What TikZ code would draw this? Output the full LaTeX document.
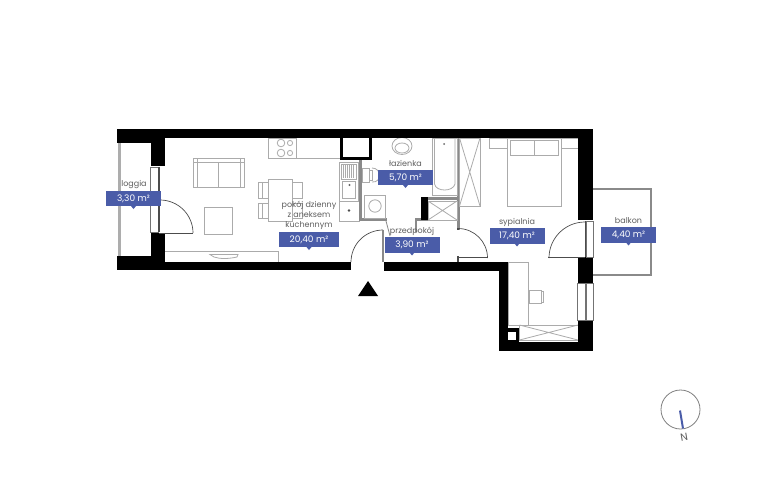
\documentclass[tikz,border=0pt]{standalone}
\usepackage{fontspec}
\setmainfont{Poppins}
\usetikzlibrary{calc}
\definecolor{labelblue}{HTML}{4A5CA8}
\definecolor{wallgray}{HTML}{8A8A8A}
\definecolor{linegray}{HTML}{ABABAB}
\definecolor{txtgray}{HTML}{5E5E5E}
\tikzset{
  x=1pt,y=-1pt,
  wall/.style={fill=black,draw=none},
  furn/.style={draw=linegray,line width=0.8pt,fill=none},
  darkline/.style={draw=black!70,line width=0.7pt},
  winframe/.style={draw=black!55,line width=0.7pt,fill=white},
  roomname/.style={text=txtgray,font=\fontsize{8}{10}\selectfont,align=center,inner sep=0pt},
  areabox/.style={fill=labelblue,text=white,font=\fontsize{9}{10}\selectfont,minimum width=55pt,minimum height=15.5pt,inner sep=0pt},
}
\newcommand{\pointer}[2]{\fill[labelblue] (#1-2.5,#2) -- (#1+2.5,#2) -- (#1,#2+3) -- cycle;}
\begin{document}
\begin{tikzpicture}
\useasboundingbox (0,0) rectangle (768,480);
\fill[white] (0,0) rectangle (768,480);

% balcony and loggia
\draw[draw=wallgray,line width=2pt] (593,188.5) -- (650.5,188.5) -- (650.5,275) -- (593,275);
\fill[wallgray!70] (118,143) rectangle (120.5,256);

% furniture: living room
\draw[furn] (193,158) rectangle (244,187);
\draw[furn] (197,158) -- (197,187) (240,158) -- (240,187) (193,162) -- (244,162) (218,162) -- (218,187);
\draw[furn] (204,207) rectangle (232,234);
\draw[furn] (165,251) -- (278,251);
\draw[furn] (278,251) -- (278,262);
\draw[furn] (210,254.5) -- (238,254.5) -- (237,257) .. controls (228,259) and (220,259) .. (214,257) -- cycle;
\draw[furn] (268,179) rectangle (292,221);
\draw[furn] (258,182) rectangle (268,198) (258,203) rectangle (268,218);
\draw[furn] (292,182) rectangle (302,198) (292,203) rectangle (302,218);
\draw[furn] (262,182) -- (262,198) (262,203) -- (262,218);

% kitchen
\draw[furn] (268,138) rectangle (296,158);
\draw[furn] (296,158) -- (340,158);
\draw[furn] (281,143) circle (3.8) (281,153) circle (3.8) (290,143) circle (2.6) (290,153) circle (2.6);
\draw[furn] (339,162) rectangle (358,201);
\draw[furn] (341,164) rectangle (356,179);
\draw[furn] (342,181) rectangle (355,198);
\foreach \k in {343,345,...,354} {\draw[linegray,line width=0.5pt] (\k,165) -- (\k,178);}
\fill[black!60] (349.5,185) circle (1.1);
\draw[furn] (339,201) rectangle (359,221);
\fill[black!70] (349,210.5) circle (1.3);
\draw[line width=3pt,draw=black] (341.5,138) -- (341.5,158.5) -- (370.5,158.5) -- (370.5,138);

% bathroom
\fill[wallgray] (359,160) rectangle (362,221);
\fill[wallgray] (359,218) rectangle (387,221);
\fill[wallgray] (428,197) rectangle (457,200);
\fill[wallgray] (457,138) rectangle (460,230);
\fill[wallgray] (415,218) rectangle (428,220.5);
\fill[wallgray] (414.5,218) rectangle (416.5,232);
\draw[wallgray,line width=0.8pt] (386,221) -- (390,236);
\fill[wall] (421,197) rectangle (428,220);
\draw[furn] (364,195) rectangle (385,218);
\draw[furn] (375,206) circle (6.2);
\draw[furn] (362,168) rectangle (369,182);
\draw[furn] (369,170) rectangle (372,180);
\draw[furn] (372,168) .. controls (382,168) and (382,183) .. (372,182);
\begin{scope}
\clip (385,138) rectangle (425,160);
\draw[furn] (402,146) ellipse (10 and 8.5);
\draw[furn] (402,148) ellipse (7 and 5);
\end{scope}
\draw[furn] (432,138) rectangle (457,195);
\draw[furn] (434.5,138) -- (434.5,184) .. controls (436,192) and (453,192) .. (455,184) -- (455,138);
\fill[black!60] (444,144) circle (1);
\draw[furn] (428,201) rectangle (457,220);
\draw[furn] (428,201) -- (457,220) (428,220) -- (457,201);

% bedroom
\draw[furn] (459.5,138) rectangle (480,206);
\draw[furn] (459.5,138) -- (480,206) (459.5,206) -- (480,138);
\draw[furn] (507,138) rectangle (561,206);
\draw[furn] (510,140) rectangle (534,155) (534,140) rectangle (558,155);
\draw[furn] (489,138) rectangle (507,148) (561,138) rectangle (578,148);
\draw[furn] (508,262) rectangle (528,325);
\draw[furn] (529,290) rectangle (541,303);
\draw[furn] (541,291) rectangle (543,302);
\draw[furn] (519.5,325) rectangle (578,340);
\draw[furn] (519.5,325) -- (578,340) (519.5,340) -- (578,325);

% walls
\fill[wall] (117,129) rectangle (593,138);
\fill[wall] (117,129) rectangle (151,143);
\fill[wall] (151,129) rectangle (165,166);
\fill[wall] (151,233) rectangle (165,270);
\fill[wall] (117,256) rectangle (151,270);
\fill[wall] (151,262) rectangle (351,270);
\fill[wall] (384,262) rectangle (508,271);
\fill[wall] (499,262) rectangle (508,351);
\fill[wall] (499,342) rectangle (593,351);
\fill[wall] (578,129) rectangle (593,220);
\fill[wall] (578,257) rectangle (593,283);
\fill[wall] (578,320) rectangle (593,351);
\fill[wall] (507,328) rectangle (519,342);
\fill[white] (508,332) rectangle (516,340);
\fill[white] (458,262) rectangle (458,262);

% windows
\draw[winframe] (150,167) rectangle (158,232);
\fill[black!70] (158,167) rectangle (159.5,232);
\draw[winframe] (586,221) rectangle (593,257);
\fill[black!70] (584.5,221) rectangle (586,257);
\draw[winframe] (577.5,283) rectangle (585,320.5);
\draw[winframe] (586,283) rectangle (593,320.5);

% doors
\draw[darkline] (160,200) arc[start angle=-90,end angle=0,radius=33];
\draw[darkline] (159,233) -- (193,233);
\draw[darkline] (383,230) arc[start angle=-90,end angle=-180,radius=32];
\fill[wallgray] (382,230) rectangle (384,262);
\draw[darkline] (458,228.5) arc[start angle=-90,end angle=0,radius=29.5];
\draw[darkline] (458,257) -- (487.5,257);
\fill[black!70] (456.5,228) rectangle (458.5,230);
\fill[black!70] (456.5,256) rectangle (458.5,262);
\draw[darkline] (585,222) arc[start angle=-90,end angle=-180,radius=36];
\draw[darkline] (548,257) -- (585,257);

% entrance marker
\fill[black] (358,296) -- (378,296) -- (368,281) -- cycle;

% labels
\node[roomname] (nloggia) at (134,185) {loggia};
\node[areabox] (aloggia) at (133.5,198.5) {3,30 m²};
\pointer{133.5}{206}
\node[roomname] (nlaz) at (405.5,163.5) {łazienka};
\node[areabox] (alaz) at (405.5,177.5) {5,70 m²};
\pointer{405.5}{185}
\node[roomname] (npokoj) at (309,215) {pokój dzienny\\z aneksem\\kuchennym};
\node[areabox,minimum width=60pt] (apokoj) at (309,239.5) {20,40 m²};
\pointer{309}{247}
\node[roomname] (nprzed) at (412,231) {przedpokój};
\node[areabox] (aprzed) at (412,245) {3,90 m²};
\pointer{412}{252.5}
\node[roomname] (nsyp) at (517,222) {sypialnia};
\node[areabox] (asyp) at (517,236) {17,40 m²};
\pointer{517}{243.5}
\node[roomname] (nbal) at (628.5,221) {balkon};
\node[areabox] (abal) at (628.5,235) {4,40 m²};
\pointer{628.5}{242.5}

% compass
\draw[draw=black!50,line width=0.8pt] (680.5,409.5) circle (19.5);
\draw[draw=labelblue,line width=2pt] (680,410.5) -- (683,428.5);
\node[text=txtgray,font=\fontsize{10.5}{12}\selectfont,rotate=10,inner sep=0pt] (north) at (684,437) {N};
\end{tikzpicture}
\end{document}
